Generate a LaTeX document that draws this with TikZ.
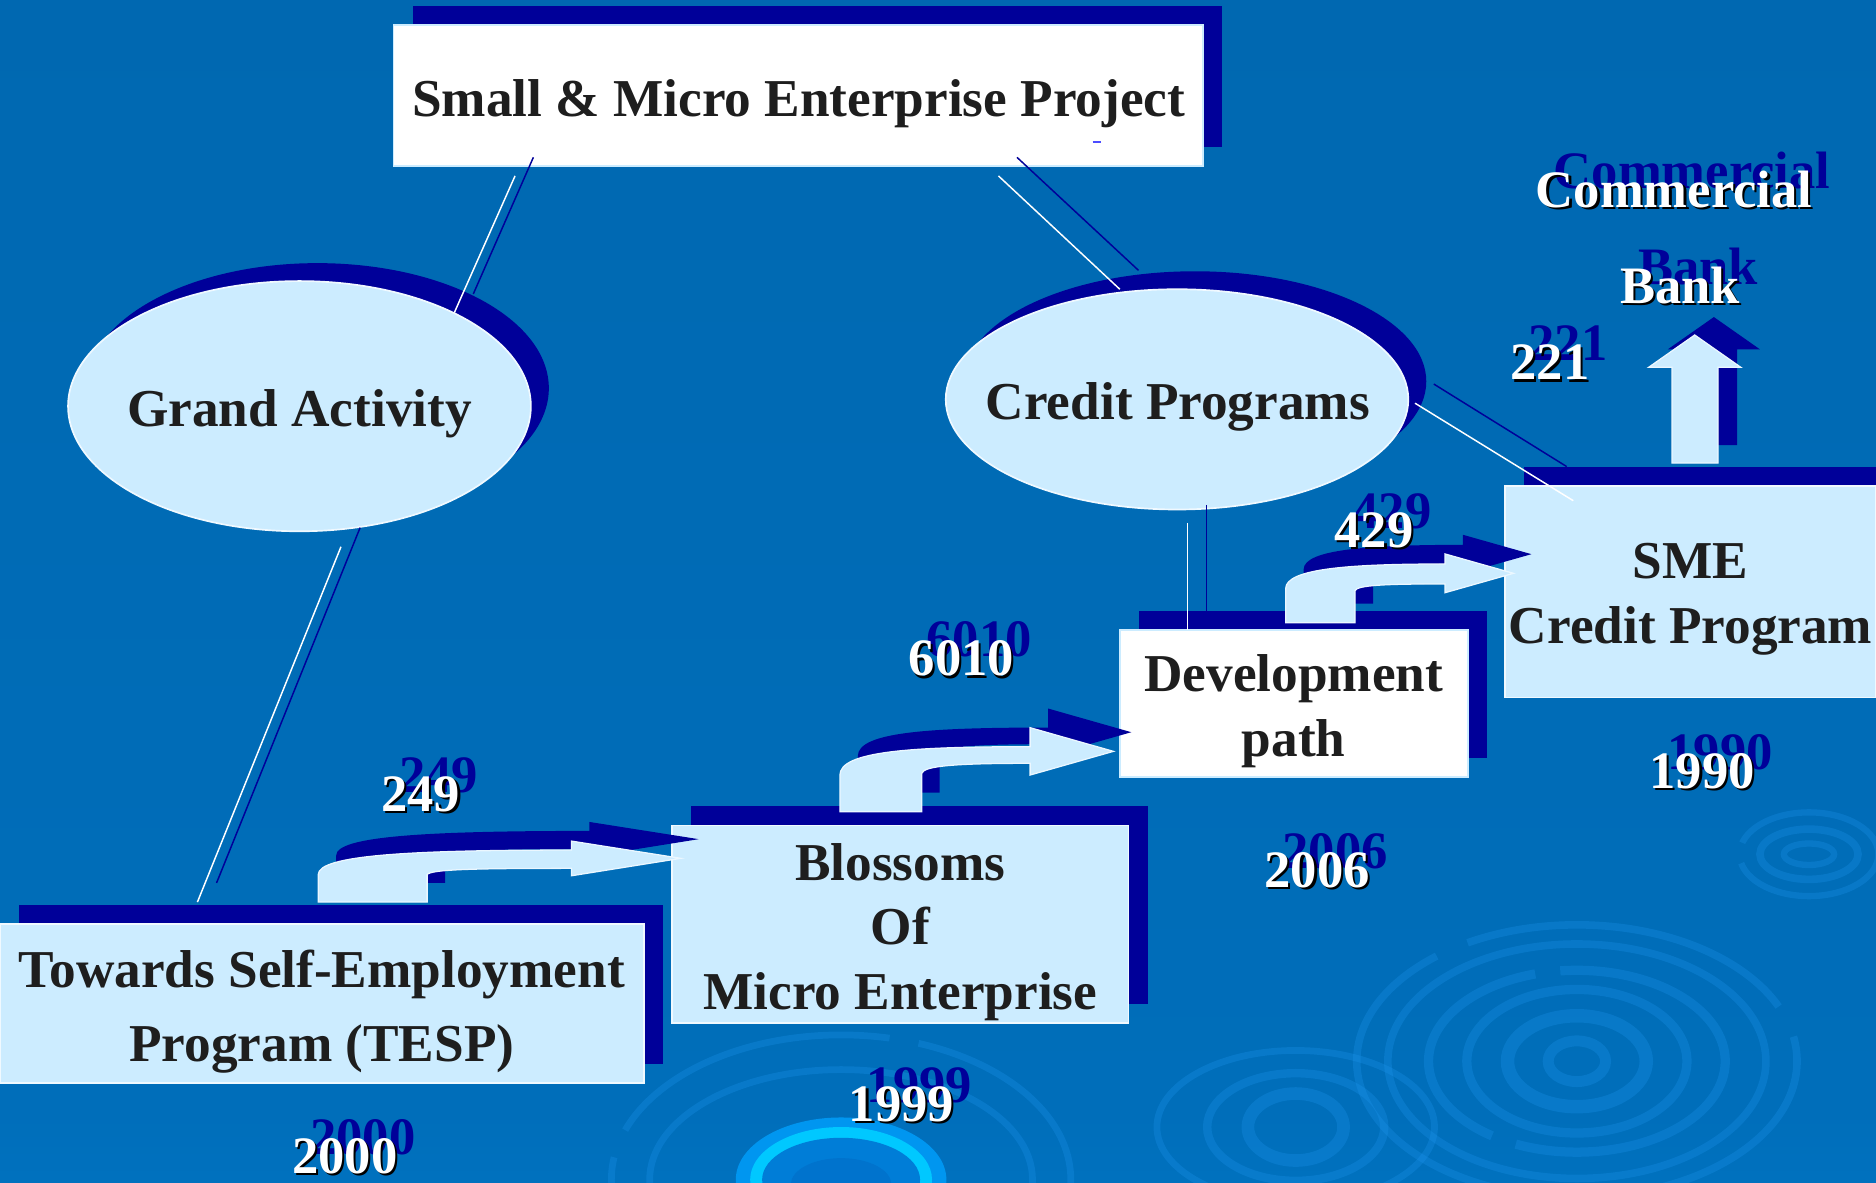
\documentclass[tikz,border=0pt]{standalone}
\usepackage{fontspec}
\setmainfont{Liberation Serif}
\usetikzlibrary{shapes.geometric,shadows}

\definecolor{navy}{RGB}{0,0,153}
\definecolor{lightfill}{RGB}{204,236,255}
\definecolor{darktext}{RGB}{30,30,30}
\definecolor{bgtop}{RGB}{0,101,172}
\definecolor{bgmid}{RGB}{0,110,186}
\definecolor{bgbot}{RGB}{0,138,225}
\definecolor{ripcol}{RGB}{30,150,240}
\definecolor{cyanouter}{RGB}{0,150,240}
\definecolor{cyanbright}{RGB}{0,200,255}
\definecolor{cyaninner}{RGB}{0,125,215}
\definecolor{cyancore}{RGB}{0,115,205}

\pgfdeclareverticalshading{bgshade}{100bp}{color(0bp)=(bgbot); color(28bp)=(bgmid); color(100bp)=(bgtop)}

\newcommand\bxfont{\fontsize{12.66}{15.36}\selectfont\bfseries}
\newcommand\tespfont{\fontsize{12.66}{17.44}\selectfont\bfseries}
\newcommand\nmfont{\fontsize{12.5}{15}\selectfont\bfseries}

\tikzset{
  boxbase/.style={rectangle, inner sep=0pt,
    general shadow={fill=navy, shadow xshift=0.16cm, shadow yshift=0.16cm}},
  lightbox/.style={boxbase, fill=lightfill, draw=white!70!lightfill, line width=0.4pt},
  whitebox/.style={boxbase, fill=white, draw=lightfill, line width=0.4pt},
  boxtext/.style={inner sep=0pt, align=center, font=\bxfont, text=darktext},
  ellnode/.style={ellipse, inner sep=0pt, fill=lightfill, draw=white!70!lightfill, line width=0.4pt,
    general shadow={fill=navy, shadow xshift=0.15cm, shadow yshift=0.15cm}},
  elltext/.style={anchor=base, font=\bxfont, text=darktext},
  numwhite/.style={anchor=base, text=white, font=\nmfont},
  numnavy/.style={anchor=base, text=navy, font=\nmfont},
  numshade/.style={anchor=base, text=black, font=\nmfont},
  linewhite/.style={draw=white, line width=0.35pt},
  linenavy/.style={draw=navy, line width=0.35pt},
  arrowlight/.style={fill=lightfill, draw=white!60!lightfill, line width=0.3pt},
  arrowshade/.style={fill=navy},
  ripple/.style={draw=ripcol, opacity=0.28},
}

\newcommand\blkarrowA[1]{\path[#1] (266,754) -- (266,731) .. controls (266,715) and (340,710.5) .. (477.6,710.5)
  -- (477.6,703) -- (569,717.4) -- (477.6,732) -- (477.6,725.8)
  .. controls (400,725.8) and (360,726.5) .. (357,731) -- (357,754) -- cycle;}
\newcommand\blkarrowB[1]{\path[#1] (702,678.4) -- (702,648) .. controls (702,628) and (760,624.1) .. (861,624.1)
  -- (861,608.2) -- (930.6,628) -- (861,647.8) -- (861,638)
  .. controls (800,638) and (772,640) .. (770.4,646.4) -- (770.4,678.4) -- cycle;}
\newcommand\blkarrowC[1]{\path[#1] (1074.6,520.5) -- (1074.6,492) .. controls (1074.6,475) and (1130,471.4) .. (1207.8,471.4)
  -- (1207.8,463) -- (1265,479.2) -- (1207.8,495.4) -- (1207.8,488.1)
  .. controls (1160,488) and (1134,489) .. (1132.6,493.7) -- (1132.6,520.5) -- cycle;}
\newcommand\blkarrowD[1]{\path[#1] (1397.5,387) -- (1397.5,307) -- (1378,307) -- (1416.5,280)
  -- (1455,307) -- (1436,307) -- (1436,387) -- cycle;}

\newcommand\numlabel[4]{%
  \node[numnavy] (#1-navy) at (#2+15,#3-16) {#4};
  \node[numshade] (#1-shade) at (#2+1.8,#3+1.8) {#4};
  \node[numwhite] (#1) at (#2,#3) {#4};}

\begin{document}
\begin{tikzpicture}[x=0.01cm, y=-0.01cm]
\useasboundingbox (0,0) rectangle (1568,988);
\clip (0,0) rectangle (1568,988);
\shade[shading=bgshade] (0,0) rectangle (1568,988);

% background ripples
\begin{scope}
  \draw[ripple, line width=2.6pt] (1318,887) ellipse [x radius=24, y radius=17];
  \draw[ripple, line width=3.2pt] (1318,887) ellipse [x radius=58, y radius=38];
  \draw[ripple, line width=2.2pt] (1318,887) ellipse [x radius=92, y radius=60];
  \draw[ripple, line width=2.2pt, dash pattern=on 60pt off 6pt] (1318,887) ellipse [x radius=124, y radius=76];
  \draw[ripple, line width=1.8pt] (1318,887) ellipse [x radius=158, y radius=98];
  \draw[ripple, line width=1.8pt, dash pattern=on 80pt off 8pt] (1318,887) ellipse [x radius=184, y radius=114];
  \draw[ripple, line width=1.5pt] (1512,714) ellipse [x radius=21, y radius=9];
  \draw[ripple, line width=1.8pt] (1512,714) ellipse [x radius=41, y radius=21];
  \draw[ripple, line width=1.5pt, dash pattern=on 40pt off 5pt] (1512,714) ellipse [x radius=58, y radius=35];
  \draw[ripple, line width=3pt] (1083,942) ellipse [x radius=40, y radius=28];
  \draw[ripple, line width=2pt] (1083,942) ellipse [x radius=74, y radius=45];
  \draw[ripple, line width=1.6pt] (1083,942) ellipse [x radius=116, y radius=64];
  \draw[ripple, line width=1.6pt] (703,986) ellipse [x radius=160, y radius=92];
  \draw[ripple, line width=1.6pt, dash pattern=on 70pt off 7pt] (703,986) ellipse [x radius=192, y radius=121];
  \fill[cyanouter] (703,986) ellipse [x radius=88, y radius=52];
  \fill[cyanbright] (703,986) ellipse [x radius=76, y radius=44];
  \fill[cyaninner] (703,986) ellipse [x radius=66, y radius=35];
  \fill[cyancore] (703,990) ellipse [x radius=42, y radius=22];
\end{scope}

% boxes
\node[whitebox, minimum width=6.765cm, minimum height=1.18cm] (top) at (667.25,80) {};
\node[lightbox, minimum width=5.38cm, minimum height=1.325cm] (tesp) at (269,838.75) {};
\node[lightbox, minimum width=3.81cm, minimum height=1.65cm] (blossoms) at (752.5,772.5) {};
\node[whitebox, minimum width=2.907cm, minimum height=1.229cm] (dev) at (1081.35,588.05) {};
\node[lightbox, minimum width=3.10cm, minimum height=1.77cm] (sme) at (1413,494.5) {};

\node[boxtext, anchor=base] (top-text) at (667.6,97.5) {Small \& Micro Enterprise Project};
\node[boxtext, font=\tespfont] (tesp-text) at (269,845.5) {Towards Self-Employment\\Program (TESP)};
\node[boxtext] (blossoms-text) at (752.5,779) {Blossoms\\Of\\Micro Enterprise};
\node[boxtext] (dev-text) at (1081.35,594.5) {Development\\path};
\node[boxtext] (sme-text) at (1413,501) {SME\\Credit Program};

% ellipses
\node[ellnode, minimum width=3.866cm, minimum height=2.09cm] (grand) at (250.3,339.5) {};
\node[elltext] (grand-text) at (250.3,356.5) {Grand Activity};
\node[ellnode, minimum width=3.864cm, minimum height=1.84cm] (credit) at (983.8,333.8) {};
\node[elltext] (credit-text) at (984.5,350.5) {Credit Programs};

% block arrows
\blkarrowA{arrowshade, shift={(15,-16)}}
\blkarrowA{arrowlight}
\blkarrowB{arrowshade, shift={(15,-16)}}
\blkarrowB{arrowlight}
\blkarrowC{arrowshade, shift={(15,-16)}}
\blkarrowC{arrowlight}
\blkarrowD{arrowshade, shift={(16,-15)}}
\blkarrowD{arrowlight}

% connector lines
\coordinate (l1w0) at (430.5,147);   \coordinate (l1w1) at (379.7,261.4);
\coordinate (l1n0) at (445.8,131.5); \coordinate (l1n1) at (395.6,245.7);
\coordinate (l2w0) at (285,457);     \coordinate (l2w1) at (165,754);
\coordinate (l2n0) at (301,441);     \coordinate (l2n1) at (181,738);
\coordinate (l3w0) at (834.5,147);   \coordinate (l3w1) at (936,241.8);
\coordinate (l3n0) at (850,131.5);   \coordinate (l3n1) at (951.6,226);
\coordinate (l4w0) at (1182.7,337);  \coordinate (l4w1) at (1315,418.5);
\coordinate (l4n0) at (1198.4,321);  \coordinate (l4n1) at (1309.5,390);
\coordinate (l5w0) at (992.7,437);   \coordinate (l5w1) at (992.7,526.6);
\coordinate (l5n0) at (1008.6,422);  \coordinate (l5n1) at (1008.6,510.7);
\draw[linewhite] (l1w0) -- (l1w1);
\draw[linenavy]  (l1n0) -- (l1n1);
\draw[linewhite] (l2w0) -- (l2w1);
\draw[linenavy]  (l2n0) -- (l2n1);
\draw[linewhite] (l3w0) -- (l3w1);
\draw[linenavy]  (l3n0) -- (l3n1);
\draw[linewhite] (l4w0) -- (l4w1);
\draw[linenavy]  (l4n0) -- (l4n1);
\draw[linewhite] (l5w0) -- (l5w1);
\draw[linenavy]  (l5n0) -- (l5n1);
\coordinate (dash0) at (913.3,118.4); \coordinate (dash1) at (920.2,118.4);
\draw[draw=blue!70!white, line width=0.5pt] (dash0) -- (dash1);

% numbers and labels
\numlabel{n249}{351.7}{678.4}{249}
\numlabel{n2000}{288.2}{980.6}{2000}
\numlabel{n1999}{753.5}{937.6}{1999}
\numlabel{n6010}{803.5}{565}{6010}
\numlabel{n429}{1148.5}{457.5}{429}
\numlabel{n2006}{1101}{741.7}{2006}
\numlabel{n1990}{1422.8}{659}{1990}
\numlabel{n221}{1295.5}{317.6}{221}
\numlabel{commercial}{1399.3}{173.3}{Commercial}
\numlabel{bank}{1404.2}{253.5}{Bank}
\end{tikzpicture}
\end{document}
